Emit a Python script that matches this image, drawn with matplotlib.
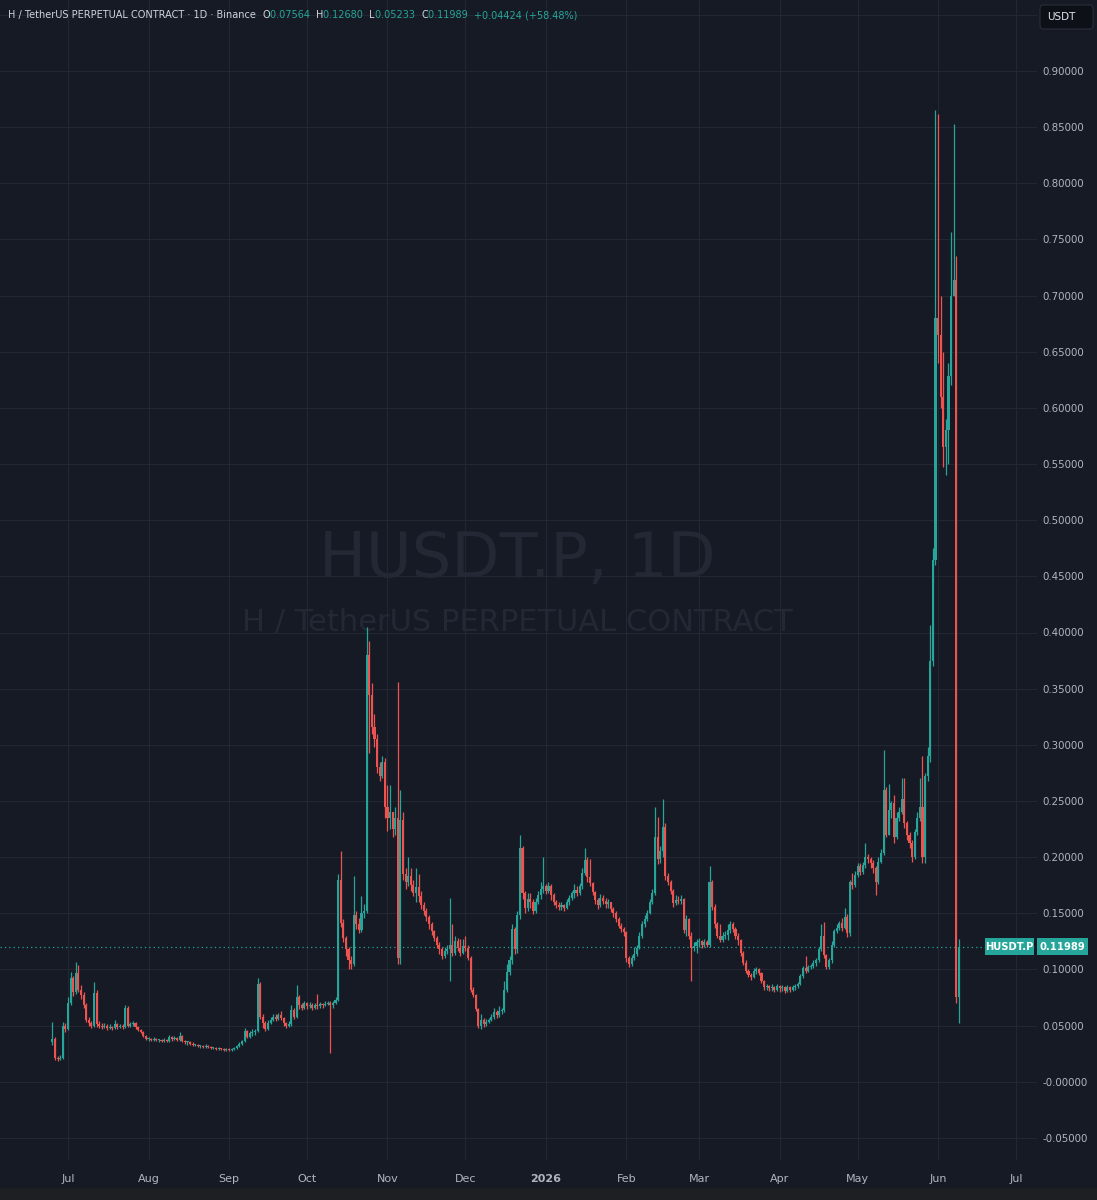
import numpy as np
import pandas as pd
import matplotlib
matplotlib.use("Agg")
import matplotlib.pyplot as plt
import matplotlib.dates as mdates
from matplotlib.patches import Rectangle, FancyBboxPatch

# ---------------- data (daily candles, HUSDT.P, Binance) ----------------
start_date = "2025-06-25"
first_open = 0.035

close = [
    .038, .021, .020, .021, .050, .047, .070,
    .092, .080, .097, .082, .077, .068, .055, .052, .050, .079, .051, .050, .049, .050, .048,
    .049, .048, .051, .049, .050, .049, .066, .050, .051, .052, .049, .046, .044, .041, .038,
    .038, .037, .038, .037, .037, .036, .037, .036, .040, .038, .039, .037, .041, .036, .035,
    .035, .034, .033, .033, .032, .032, .031, .032, .031, .030, .030, .029, .030, .029, .028,
    .029, .028, .029, .030, .032, .034, .036, .045, .040, .043, .044, .045, .087, .058,
    .052, .047, .052, .055, .058, .056, .059, .057, .052, .050, .051, .064, .058, .075, .068,
    .066, .070, .067, .068, .066, .068, .067, .069, .068, .069, .070, .068, .070, .073, .180,
    .141, .128, .118, .108, .105, .148, .140, .135, .150, .152, .380, .344, .316, .305, .280,
    .272, .285, .245, .235, .240, .225, .235, .110, .233, .185,
    .178, .183, .175, .168, .173, .165, .157, .152, .147, .140, .134, .128, .122, .118, .112,
    .116, .118, .122, .115, .125, .119, .115, .121, .119, .110, .082, .077, .065, .050, .055,
    .051, .053, .055, .058, .062, .059, .063, .064,
    .082, .098, .108, .136, .118, .148, .208, .168, .155, .163, .160, .152, .160, .166, .172,
    .174, .170, .174, .166, .160, .157, .156, .157, .155, .160, .164, .168, .171, .168, .174,
    .186, .197, .182, .177, .169, .162, .157, .164, .161, .158, .160, .154, .150, .145, .139,
    .136, .133,
    .110, .105, .110, .114, .119, .130, .140, .145, .150, .160, .168, .218, .198, .205, .227,
    .183, .178, .170, .159, .162, .161, .163, .135, .145, .130, .119, .121, .124, .125, .122,
    .124, .122, .178, .156, .140, .130, .126, .130, .131,
    .135, .140, .136, .130, .126, .115, .106, .099, .095, .093, .099, .100, .097, .090, .084,
    .085, .083, .084, .082, .085, .083, .084, .081, .084, .082, .084, .085, .087, .094, .101,
    .099, .102, .103, .106, .108, .118, .130, .113, .102, .108,
    .122, .134, .137, .141, .137, .147, .132, .178, .175, .184, .192, .187, .193, .200, .198,
    .195, .190, .178, .196, .204, .260, .220, .242, .248, .218, .235, .240, .252, .230, .220,
    .213, .200, .222, .235, .245, .200, .272, .290, .375, .465, .680, .665, .610, .565, .580,
    .628, .700, .714, .07564, .11989,
]

high = [
    .053, .040, .023, .024, .053, .052, .075,
    .098, .094, .107, .104, .086, .080, .070, .058, .054, .089, .082, .054, .052, .052, .051,
    .051, .050, .055, .052, .051, .051, .068, .067, .053, .054, .053, .050, .047, .045, .042,
    .040, .039, .040, .039, .038, .038, .039, .038, .042, .041, .041, .040, .044, .042, .037,
    .036, .036, .035, .034, .034, .033, .033, .034, .033, .032, .031, .031, .031, .030, .030,
    .030, .030, .030, .031, .033, .035, .037, .048, .046, .045, .047, .047, .092, .089,
    .060, .054, .055, .058, .060, .060, .061, .063, .058, .053, .054, .068, .066, .086, .077,
    .070, .072, .071, .071, .070, .070, .078, .071, .070, .072, .072, .072, .072, .075, .185,
    .205, .145, .130, .120, .112, .183, .152, .146, .165, .158, .405, .392, .355, .327, .310,
    .285, .290, .288, .264, .264, .240, .245, .356, .260, .240,
    .190, .200, .190, .180, .190, .185, .170, .160, .155, .148, .142, .135, .130, .124, .120,
    .120, .122, .164, .140, .130, .128, .127, .127, .130, .122, .112, .084, .078, .066, .060,
    .057, .056, .057, .060, .066, .064, .067, .066,
    .090, .105, .112, .140, .138, .152, .220, .210, .170, .168, .168, .163, .164, .170, .178,
    .200, .176, .178, .176, .168, .162, .160, .160, .158, .163, .166, .170, .176, .174, .177,
    .190, .208, .200, .198, .178, .170, .164, .167, .166, .164, .163, .160, .156, .152, .147,
    .141, .138,
    .134, .112, .113, .120, .122, .133, .143, .148, .153, .163, .172, .245, .236, .210, .252,
    .230, .186, .180, .172, .166, .165, .166, .164, .148, .146, .133, .124, .127, .128, .126,
    .127, .126, .192, .180, .158, .142, .140, .133, .134,
    .140, .143, .142, .138, .132, .127, .116, .108, .100, .097, .101, .102, .101, .098, .091,
    .087, .086, .087, .085, .087, .086, .086, .085, .086, .085, .086, .087, .089, .096, .103,
    .112, .104, .105, .108, .110, .120, .140, .142, .114, .110,
    .125, .136, .140, .143, .146, .155, .149, .180, .186, .188, .195, .195, .196, .213, .203,
    .200, .197, .192, .200, .207, .295, .262, .265, .250, .255, .240, .245, .270, .270, .232,
    .222, .215, .225, .240, .270, .290, .275, .298, .407, .475, .865, .862, .700, .650, .590,
    .640, .757, .853, .735, .12680,
]

low = [
    .033, .019, .018, .019, .020, .044, .046,
    .068, .076, .078, .080, .074, .066, .053, .050, .048, .049, .049, .048, .047, .048, .046,
    .047, .046, .047, .047, .048, .047, .048, .049, .049, .050, .047, .045, .043, .040, .037,
    .036, .036, .036, .036, .035, .035, .035, .035, .035, .036, .037, .036, .036, .035, .034,
    .033, .033, .032, .032, .031, .030, .030, .030, .030, .029, .029, .028, .028, .028, .027,
    .027, .027, .027, .028, .029, .031, .033, .035, .039, .039, .041, .042, .044, .056,
    .048, .045, .046, .051, .054, .054, .055, .055, .050, .048, .049, .050, .056, .057, .065,
    .064, .065, .065, .066, .064, .065, .065, .066, .066, .067, .068, .026, .066, .069, .072,
    .138, .124, .112, .100, .100, .103, .136, .132, .133, .146, .150, .293, .310, .298, .275,
    .268, .270, .235, .223, .225, .218, .220, .105, .105, .180,
    .172, .174, .170, .165, .160, .160, .154, .148, .143, .136, .131, .125, .119, .114, .109,
    .110, .114, .090, .112, .113, .116, .112, .114, .116, .108, .080, .075, .063, .048, .047,
    .049, .050, .052, .054, .056, .057, .058, .060,
    .062, .080, .095, .105, .114, .115, .145, .163, .150, .152, .155, .149, .150, .158, .163,
    .168, .167, .168, .162, .157, .155, .153, .153, .152, .154, .157, .162, .164, .165, .166,
    .172, .184, .178, .174, .166, .158, .154, .156, .158, .155, .155, .151, .147, .142, .137,
    .133, .130,
    .107, .102, .103, .108, .112, .118, .128, .138, .143, .149, .158, .166, .194, .195, .200,
    .180, .175, .167, .156, .157, .158, .158, .132, .130, .127, .090, .116, .115, .120, .119,
    .120, .120, .120, .153, .137, .128, .124, .124, .127,
    .126, .132, .133, .127, .122, .112, .104, .097, .093, .091, .092, .096, .095, .088, .082,
    .082, .081, .081, .080, .081, .080, .081, .079, .080, .080, .081, .082, .083, .086, .092,
    .097, .098, .100, .101, .103, .107, .116, .110, .100, .100,
    .106, .120, .132, .135, .134, .136, .129, .130, .172, .173, .182, .184, .185, .190, .195,
    .190, .186, .166, .176, .195, .202, .218, .220, .235, .213, .216, .232, .238, .226, .215,
    .208, .196, .198, .220, .232, .195, .195, .268, .285, .370, .460, .640, .600, .547, .540,
    .550, .620, .700, .070, .05233,
]

last_price = 0.11989
ytick_values = [-0.05, 0.0, 0.05, 0.10, 0.15, 0.20, 0.25, 0.30, 0.35, 0.40, 0.45,
                0.50, 0.55, 0.60, 0.65, 0.70, 0.75, 0.80, 0.85, 0.90]
ytick_labels = ["-0.05000", "-0.00000", "0.05000", "0.10000", "0.15000", "0.20000",
                "0.25000", "0.30000", "0.35000", "0.40000", "0.45000", "0.50000",
                "0.55000", "0.60000", "0.65000", "0.70000", "0.75000", "0.80000",
                "0.85000", "0.90000"]
month_ticks = ["2025-07-01", "2025-08-01", "2025-09-01", "2025-10-01", "2025-11-01",
               "2025-12-01", "2026-01-01", "2026-02-01", "2026-03-01", "2026-04-01",
               "2026-05-01", "2026-06-01", "2026-07-01"]
month_labels = ["Jul", "Aug", "Sep", "Oct", "Nov", "Dec", "2026", "Feb", "Mar",
                "Apr", "May", "Jun", "Jul"]

# ---------------- build ----------------
close = np.array(close)
high = np.array(high)
low = np.array(low)
assert len(close) == len(high) == len(low) == 350, (len(close), len(high), len(low))
opn = np.concatenate([[first_open], close[:-1]])
high = np.maximum(high, np.maximum(opn, close))
low = np.minimum(low, np.minimum(opn, close))
dates = pd.date_range(start_date, periods=len(close), freq="D")
xd = mdates.date2num(dates.to_pydatetime())

BG = "#161a25"
GRID = "#222733"
UP = "#26a69a"
DN = "#ef5350"
TXT = "#b2b5be"

W, H = 1097, 1200
fig = plt.figure(figsize=(W / 100, H / 100), dpi=100)
fig.patch.set_facecolor(BG)

plot_right = 1037
plot_bottom = 1160
ax = fig.add_axes([0, 1 - plot_bottom / H, plot_right / W, plot_bottom / H])
ax.set_facecolor(BG)

# price scale: y pixel 71 -> 0.90, 1123 px per unit
ppu = 1123.0
ax.set_ylim(0.90 - (plot_bottom - 71) / ppu, 0.90 + 71 / ppu)
jul1 = mdates.date2num(pd.Timestamp("2025-07-01").to_pydatetime())
jul1b = mdates.date2num(pd.Timestamp("2026-07-01").to_pydatetime())
ppd = (1016 - 68) / (jul1b - jul1)
ax.set_xlim(jul1 - 68 / ppd, jul1b + (plot_right - 1016) / ppd)

# grid
for v in ytick_values + [0.95]:
    ax.axhline(v, color=GRID, lw=0.8, zorder=0)
mt = [mdates.date2num(pd.Timestamp(d).to_pydatetime()) for d in month_ticks]
for v in mt:
    ax.axvline(v, color=GRID, lw=0.8, zorder=0)

# watermark
ax.text(517 / plot_right, 1 - 560 / plot_bottom, "HUSDT.P, 1D", transform=ax.transAxes,
        ha="center", va="center", fontsize=45, color="#232834", zorder=0.5)
ax.text(517 / plot_right, 1 - 622 / plot_bottom, "H / TetherUS PERPETUAL CONTRACT",
        transform=ax.transAxes, ha="center", va="center", fontsize=22,
        color="#232834", zorder=0.5)

# candles
up = close >= opn
cols = np.where(up, UP, DN)
ax.vlines(xd, low, high, colors=cols, linewidth=0.9, zorder=2)
body_bottom = np.minimum(opn, close)
body_h = np.maximum(np.abs(close - opn), 1.0 / ppu)
ax.bar(xd, body_h, bottom=body_bottom, width=0.8, color=cols, linewidth=0, zorder=3)

# last price line
ax.axhline(last_price, color=UP, lw=0.9, linestyle=(0, (1, 2.5)), zorder=1)

# axes styling
for s in ax.spines.values():
    s.set_visible(False)
ax.yaxis.tick_right()
ax.set_yticks(ytick_values)
ax.set_yticklabels(ytick_labels)
ax.set_xticks(mt)
ax.set_xticklabels(month_labels)
ax.tick_params(axis="y", length=0, pad=4, labelsize=7.4, labelcolor=TXT)
ax.tick_params(axis="x", length=0, pad=10, labelsize=8, labelcolor=TXT)
for lab in ax.get_xticklabels():
    if lab.get_text() == "2026":
        lab.set_fontweight("bold")
ax.grid(False)

# bottom strip
fig.add_artist(Rectangle((0, 0), 1, 12 / H, transform=fig.transFigure,
                         facecolor="#1e1f23", edgecolor="none", zorder=5))

# price badge
yb = 1 - 946.5 / H
bh = 17 / H
fig.add_artist(Rectangle((985 / W, yb - bh / 2), 49 / W, bh, transform=fig.transFigure,
                         facecolor=UP, edgecolor="none", zorder=6))
fig.add_artist(Rectangle((1037 / W, yb - bh / 2), 51 / W, bh, transform=fig.transFigure,
                         facecolor=UP, edgecolor="none", zorder=6))
fig.text(1009.5 / W, yb, "HUSDT.P", ha="center", va="center", fontsize=7.2,
         color="white", fontweight="bold", zorder=7)
fig.text(1062.5 / W, yb, "0.11989", ha="center", va="center", fontsize=7.2,
         color="white", fontweight="bold", zorder=7)

# USDT button
fig.add_artist(FancyBboxPatch((1040 / W, 1 - 29 / H), 53 / W, 24 / H,
                              boxstyle="round,pad=0,rounding_size=0.003",
                              transform=fig.transFigure, facecolor="#0e1017",
                              edgecolor="#2a2e39", linewidth=0.8, zorder=6))
fig.text(1047 / W, 1 - 16.5 / H, "USDT", ha="left", va="center", fontsize=7.5,
         color="#e0e3eb", zorder=7)

# header legend
renderer = fig.canvas.get_renderer()
pieces = [
    ("H / TetherUS PERPETUAL CONTRACT \u00b7 1D \u00b7 Binance  ", "#d1d4dc"),
    ("O", "#d1d4dc"), ("0.07564  ", UP),
    ("H", "#d1d4dc"), ("0.12680  ", UP),
    ("L", "#d1d4dc"), ("0.05233  ", UP),
    ("C", "#d1d4dc"), ("0.11989  ", UP),
    ("+0.04424 (+58.48%)", UP),
]
xpos = 8 / W
for txt, col in pieces:
    t = fig.text(xpos, 1 - 15 / H, txt, ha="left", va="center", fontsize=7.05,
                 color=col, zorder=7)
    bb = t.get_window_extent(renderer=renderer)
    xpos = bb.x1 / W

fig.savefig("out.png", dpi=100, facecolor=BG)
